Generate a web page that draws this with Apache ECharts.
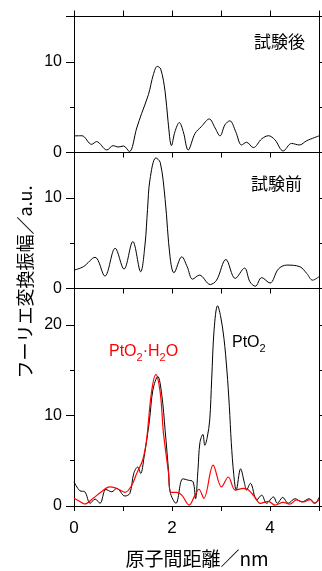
<!DOCTYPE html>
<html><head><meta charset="utf-8">
<script src="https://cdn.jsdelivr.net/npm/echarts@6/dist/echarts.min.js"></script>
<style>html,body{margin:0;padding:0;background:#fff}#c{width:322px;height:571px}</style>
</head><body><div id="c"></div>
<script>
// x ticks (nm)
const xTickLabels = ['0', '2', '4'];
// 試験後 (after test)
const afterX = [0.00,0.16,0.36,0.46,0.67,0.80,0.90,1.01,1.13,1.28,1.38,1.52,1.62,1.70,1.77,1.86,1.92,1.99,2.06,2.15,2.23,2.33,2.47,2.60,2.76,2.88,2.98,3.08,3.18,3.30,3.42,3.52,3.66,3.83,3.97,4.10,4.27,4.44,4.60,4.75,5.00];
const afterY = [1.83,1.85,0.90,1.20,0.28,0.76,0.60,0.72,0.10,2.70,4.30,6.40,8.60,9.50,9.20,6.70,3.40,0.76,2.30,3.30,2.30,0.28,2.10,2.86,3.70,2.70,1.83,3.05,3.50,2.30,0.83,1.13,0.54,1.50,1.85,1.40,0.17,1.00,0.83,1.30,1.83];
// 試験前 (before test)
const beforeX = [0.00,0.19,0.43,0.63,0.84,1.02,1.20,1.36,1.45,1.50,1.55,1.67,1.76,1.86,1.96,2.04,2.20,2.31,2.42,2.56,2.78,2.91,3.10,3.29,3.48,3.59,3.70,3.83,4.00,4.17,4.34,4.61,4.75,4.87,5.00];
const beforeY = [2.03,2.40,3.44,1.37,4.44,2.14,5.18,1.85,4.90,8.70,12.0,14.4,13.9,9.80,3.50,1.74,3.50,2.40,1.03,1.48,0.44,0.92,3.20,1.11,2.25,0.74,0.25,1.20,0.60,2.14,2.58,2.40,1.66,0.92,1.30];
// PtO2 reference (black)
const pto2X = [0.00,0.12,0.22,0.33,0.43,0.53,0.65,0.77,0.87,1.04,1.14,1.22,1.30,1.36,1.43,1.54,1.61,1.71,1.79,1.86,1.93,1.96,2.08,2.22,2.33,2.43,2.48,2.53,2.57,2.63,2.67,2.72,2.77,2.81,2.86,2.93,2.99,3.06,3.12,3.17,3.21,3.26,3.31,3.40,3.48,3.52,3.60,3.73,3.83,3.93,4.07,4.15,4.26,4.37,4.51,4.65,4.80,4.92,5.00];
const pto2Y = [2.67,1.68,1.57,0.30,0.77,0.30,1.83,1.57,1.94,1.10,1.40,3.60,4.30,3.60,5.40,9.45,12.8,14.3,12.3,8.35,3.80,1.57,0.30,3.00,2.85,2.67,0.80,4.00,7.00,7.90,6.70,7.60,9.50,14.0,19.5,22.1,21.0,18.5,15.0,11.0,7.00,3.50,1.76,4.10,2.50,1.76,2.50,0.66,1.20,0.30,1.00,0.30,0.95,0.30,0.80,0.45,0.80,0.30,0.95];
// PtO2·H2O reference (red)
const hydX = [0.00,0.12,0.22,0.39,0.56,0.73,0.84,0.94,1.04,1.18,1.28,1.40,1.48,1.58,1.67,1.76,1.82,1.86,1.93,1.98,2.10,2.20,2.35,2.47,2.55,2.65,2.84,3.01,3.15,3.29,3.46,3.56,3.69,3.80,3.97,4.10,4.27,4.40,4.54,4.68,4.82,4.90,5.00];
const hydY = [0.85,0.50,0.22,0.85,1.57,2.10,2.00,1.75,1.50,2.30,3.60,5.05,7.25,12.5,14.5,12.5,8.35,6.50,3.60,1.50,1.50,1.20,0.10,1.20,1.85,0.85,4.50,2.10,3.20,1.76,1.94,1.76,1.00,0.30,0.50,0.10,0.40,0.20,0.66,0.45,0.70,0.30,0.70];

const zip = (xs, ys) => xs.map((x, i) => [x, ys[i]]);
const NUM = '"Liberation Sans", Arial, sans-serif';
const JP = '"Noto Sans CJK JP", sans-serif';

const grids = [
  {left: 74, top: 16.5, width: 245, height: 136},
  {left: 74, top: 152.5, width: 245, height: 136},
  {left: 74, top: 288.5, width: 245, height: 217.5}
];
const yMax = [15, 15, 24];

const xAxis = [], yAxis = [];
grids.forEach((g, i) => {
  xAxis.push({
    type: 'value', gridIndex: i, min: 0, max: 5, interval: 1, position: 'bottom',
    axisLine: {show: true, onZero: false, lineStyle: {color: '#000', width: 1}},
    axisTick: {show: true, inside: false, length: 5, lineStyle: {color: '#000'}},
    axisLabel: {show: i === 2, margin: 14, fontSize: 17, color: '#000', fontFamily: NUM,
      formatter: v => (xTickLabels.indexOf(String(v)) >= 0 ? String(v) : '')},
    splitLine: {show: false}
  });
  xAxis.push({
    type: 'value', gridIndex: i, min: 0, max: 5, interval: 1, position: 'top',
    axisLine: {show: true, onZero: false, lineStyle: {color: '#000', width: 1}},
    axisTick: {show: i === 0, inside: false, length: 6, lineStyle: {color: '#000'}},
    axisLabel: {show: false}, splitLine: {show: false}
  });
  yAxis.push({
    type: 'value', gridIndex: i, min: 0, max: yMax[i], interval: 5, position: 'left',
    axisLine: {show: true, onZero: false, lineStyle: {color: '#000'}},
    axisTick: {show: true, length: 4, lineStyle: {color: '#000'}},
    axisLabel: {show: false}, splitLine: {show: false}
  });
  yAxis.push({
    type: 'value', gridIndex: i, min: 0, max: yMax[i], interval: 10, position: 'left',
    axisLine: {show: false, onZero: false},
    axisTick: {show: true, length: 8, lineStyle: {color: '#000'}},
    axisLabel: {show: true, margin: 12, fontSize: 16, color: '#000', fontFamily: NUM,
      formatter: v => (v % 10 === 0 ? String(v) : '')},
    splitLine: {show: false}
  });
  yAxis.push({
    type: 'value', gridIndex: i, min: 0, max: yMax[i], interval: 5, position: 'right',
    axisLine: {show: true, onZero: false, lineStyle: {color: '#000'}},
    axisTick: {show: true, inside: false, length: 3, lineStyle: {color: '#000'}},
    axisLabel: {show: false}, splitLine: {show: false}
  });
});

const line = (name, data, gi, color, w) => ({
  name, type: 'line', data, xAxisIndex: gi * 2, yAxisIndex: gi * 3,
  smooth: 0.35, showSymbol: false, symbol: 'none',
  lineStyle: {color, width: w}, animation: false, silent: true
});

const subRich = {
  a: {fontSize: 16, fontFamily: NUM, lineHeight: 22},
  s: {fontSize: 11, fontFamily: NUM, lineHeight: 10, verticalAlign: 'bottom'}
};

const option = {
  animation: false,
  backgroundColor: '#fff',
  grid: grids,
  xAxis, yAxis,
  series: [
    line('試験後', zip(afterX, afterY), 0, '#000', 1),
    line('試験前', zip(beforeX, beforeY), 1, '#000', 1),
    line('PtO2', zip(pto2X, pto2Y), 2, '#000', 1),
    line('PtO2·H2O', zip(hydX, hydY), 2, '#ff0000', 1.2)
  ],
  graphic: [
    {type: 'text', left: 254, top: 33, style: {text: '試験後', font: '17px ' + JP, fill: '#000'}},
    {type: 'text', left: 251, top: 175, style: {text: '試験前', font: '17px ' + JP, fill: '#000'}},
    {type: 'text', left: 109, top: 344, style: {text: '{a|PtO}{s|2}{a|·H}{s|2}{a|O}', rich: subRich, fill: '#ff0000'}},
    {type: 'text', left: 232, top: 335, style: {text: '{a|PtO}{s|2}', rich: subRich, fill: '#000'}},
    {type: 'text', x: 25, y: 282, rotation: Math.PI / 2,
      style: {text: 'フーリエ変換振幅／a.u.', font: '18px ' + JP, fill: '#000', align: 'center', verticalAlign: 'middle'}},
    {type: 'text', x: 197, y: 559,
      style: {text: '原子間距離／nm', font: '19px ' + JP, fill: '#000', align: 'center', verticalAlign: 'middle'}}
  ]
};

const chart = echarts.init(document.getElementById('c'), null, {renderer: 'canvas'});
chart.setOption(option);
</script></body></html>
